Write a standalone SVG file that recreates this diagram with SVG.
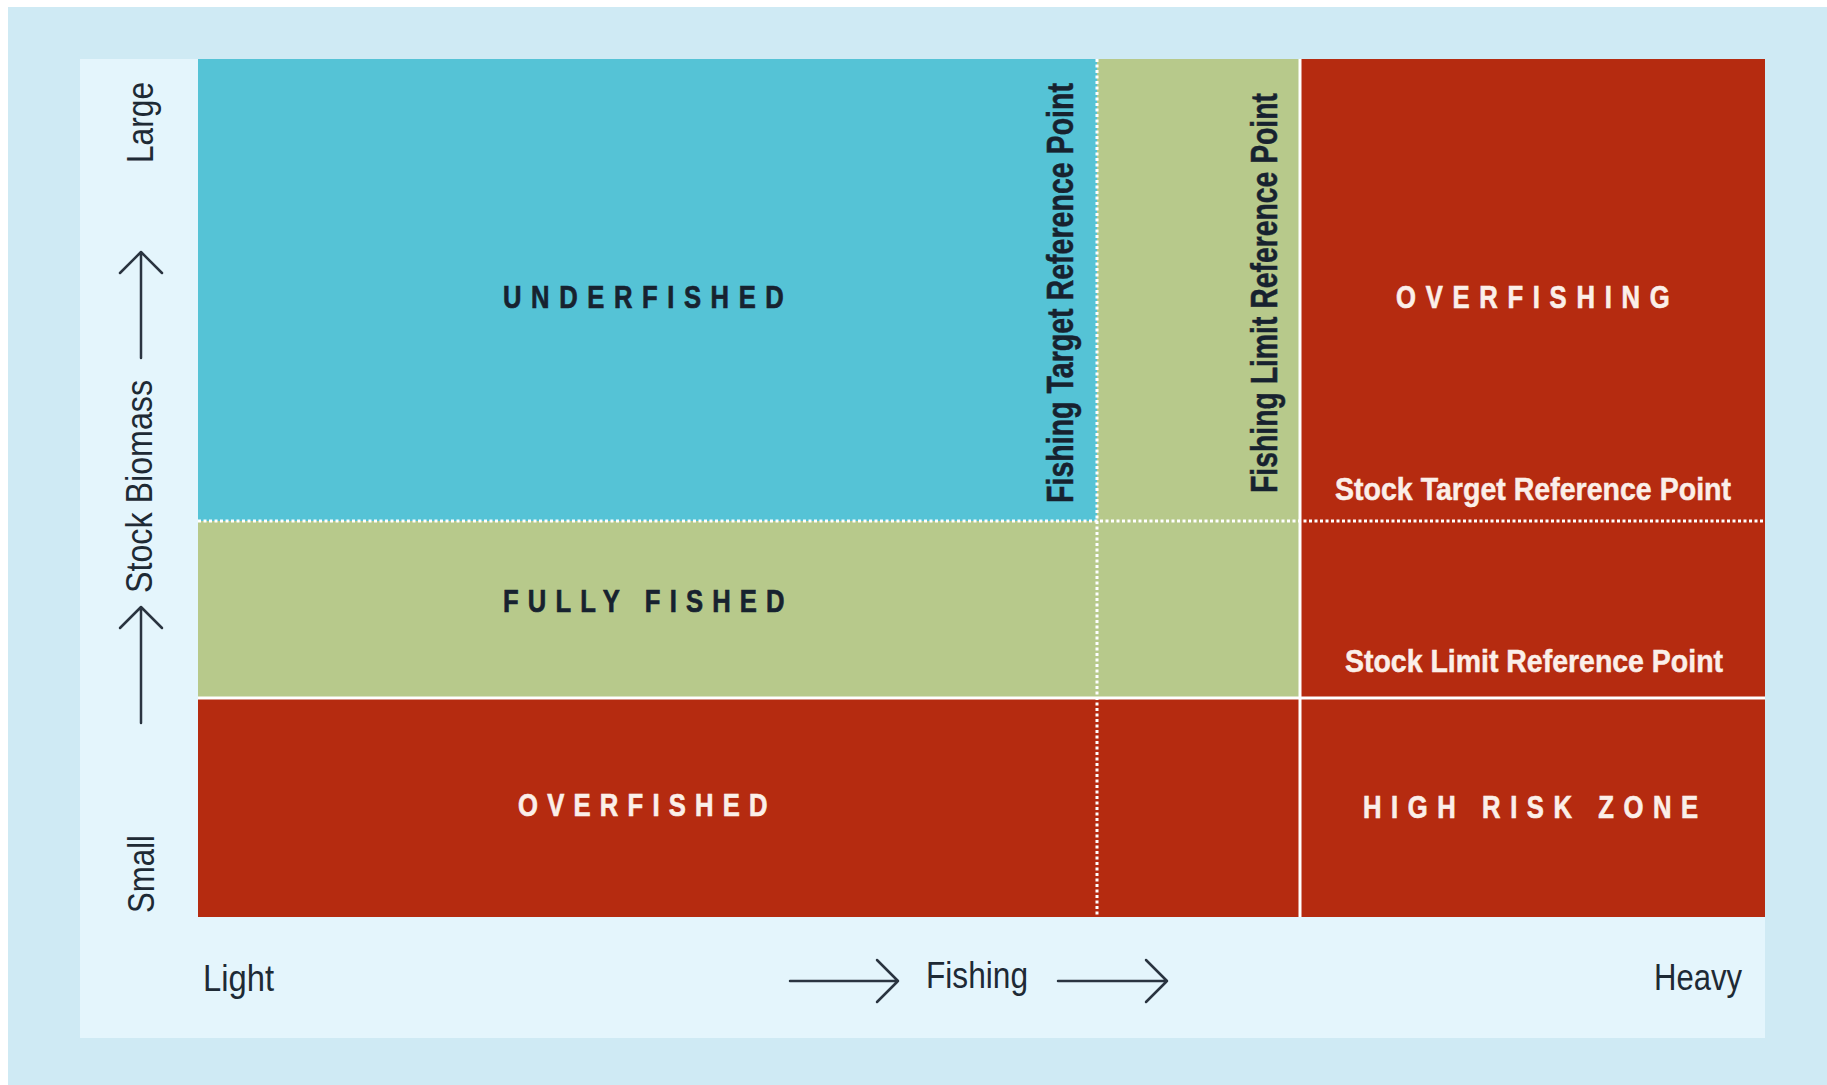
<svg xmlns="http://www.w3.org/2000/svg" width="1827" height="1085" viewBox="0 0 1827 1085">
  <defs>
    <style>
      .axis { font-family: "Liberation Sans", Arial, sans-serif; font-size: 36px; fill: #1e2a35; }
      .caps { font-family: "Liberation Sans", Arial, sans-serif; font-weight: bold; font-size: 32px; stroke-width: 0.7px; }
      .ref { font-family: "Liberation Sans", Arial, sans-serif; font-weight: bold; stroke-width: 0.5px; }
      .dark { fill: #17222f; stroke: #17222f; }
      .light { fill: #fbefe9; stroke: #fbefe9; }
      .arrow { fill: none; stroke: #2a3440; stroke-width: 2.5; stroke-linecap: round; stroke-linejoin: round; }
      .dotted { stroke: #ffffff; stroke-width: 3; stroke-dasharray: 3 2.5; fill: none; }
      .solid { stroke: #ffffff; stroke-width: 3; fill: none; }
    </style>
  </defs>

  <!-- page background -->
  <rect x="0" y="0" width="1827" height="1085" fill="#ffffff"/>
  <rect x="8" y="7" width="1819" height="1078" fill="#cfeaf4"/>
  <rect x="80" y="59" width="1685" height="979" fill="#e4f5fc"/>

  <!-- zones -->
  <g id="underfished">
    <rect x="198" y="59" width="899" height="462" fill="#55c3d6"/>
    <g transform="translate(503,308) scale(0.8,1)">
      <text class="caps dark" x="0" y="0" textLength="351" lengthAdjust="spacing">UNDERFISHED</text>
    </g>
  </g>

  <g id="fishing-target-band">
    <rect x="1097" y="59" width="203" height="462" fill="#b7c98b"/>
  </g>

  <g id="fully-fished">
    <rect x="198" y="521" width="1102" height="177" fill="#b7c98b"/>
    <g transform="translate(503,612) scale(0.8,1)">
      <text class="caps dark" x="0" y="0" textLength="352" lengthAdjust="spacing">FULLY FISHED</text>
    </g>
  </g>

  <g id="overfishing">
    <rect x="1300" y="59" width="465" height="639" fill="#b52b10"/>
    <g transform="translate(1396,308) scale(0.8,1)">
      <text class="caps light" x="0" y="0" textLength="342" lengthAdjust="spacing">OVERFISHING</text>
    </g>
  </g>

  <g id="overfished">
    <rect x="198" y="698" width="1102" height="219" fill="#b52b10"/>
    <g transform="translate(518,816) scale(0.8,1)">
      <text class="caps light" x="0" y="0" textLength="312" lengthAdjust="spacing">OVERFISHED</text>
    </g>
  </g>

  <g id="high-risk-zone">
    <rect x="1300" y="698" width="465" height="219" fill="#b52b10"/>
    <g transform="translate(1363,818) scale(0.8,1)">
      <text class="caps light" x="0" y="0" textLength="419" lengthAdjust="spacing">HIGH RISK ZONE</text>
    </g>
  </g>

  <!-- reference lines -->
  <g id="reference-lines">
    <line class="dotted" x1="198" y1="521" x2="1765" y2="521"/>
    <line class="dotted" x1="1097" y1="59" x2="1097" y2="917"/>
    <line class="solid" x1="198" y1="698" x2="1765" y2="698"/>
    <line class="solid" x1="1300" y1="59" x2="1300" y2="917"/>
  </g>

  <!-- reference point labels -->
  <g id="fishing-target-reference-point">
    <text class="ref dark" font-size="37" transform="translate(1073,503) rotate(-90)" x="0" y="0" textLength="420" lengthAdjust="spacingAndGlyphs">Fishing Target Reference Point</text>
  </g>
  <g id="fishing-limit-reference-point">
    <text class="ref dark" font-size="37" transform="translate(1277,493) rotate(-90)" x="0" y="0" textLength="400" lengthAdjust="spacingAndGlyphs">Fishing Limit Reference Point</text>
  </g>
  <g id="stock-target-reference-point">
    <text class="ref light" font-size="32" x="1335" y="500" textLength="396" lengthAdjust="spacingAndGlyphs">Stock Target Reference Point</text>
  </g>
  <g id="stock-limit-reference-point">
    <text class="ref light" font-size="32" x="1345" y="672" textLength="378" lengthAdjust="spacingAndGlyphs">Stock Limit Reference Point</text>
  </g>

  <!-- axis labels -->
  <g id="y-axis-labels">
    <text class="axis" transform="translate(153,163) rotate(-90)" x="0" y="0" textLength="81" lengthAdjust="spacingAndGlyphs">Large</text>
    <text class="axis" transform="translate(152,593) rotate(-90)" x="0" y="0" textLength="213" lengthAdjust="spacingAndGlyphs">Stock Biomass</text>
    <text class="axis" transform="translate(154,913) rotate(-90)" x="0" y="0" textLength="78" lengthAdjust="spacingAndGlyphs">Small</text>
  </g>
  <g id="x-axis-labels">
    <text class="axis" x="203" y="991" textLength="71" lengthAdjust="spacingAndGlyphs">Light</text>
    <text class="axis" x="926" y="988" textLength="102" lengthAdjust="spacingAndGlyphs">Fishing</text>
    <text class="axis" x="1654" y="990" textLength="88" lengthAdjust="spacingAndGlyphs">Heavy</text>
  </g>

  <!-- connectors (axis arrows) -->
  <g id="connectors">
    <path class="arrow" d="M141,358 L141,252 M120,273 L141,252 L162,273"/>
    <path class="arrow" d="M141,723 L141,607 M120,628 L141,607 L162,628"/>
    <path class="arrow" d="M790,981 L898,981 M877,960 L898,981 L877,1002"/>
    <path class="arrow" d="M1058,981 L1167,981 M1146,960 L1167,981 L1146,1002"/>
  </g>
</svg>
